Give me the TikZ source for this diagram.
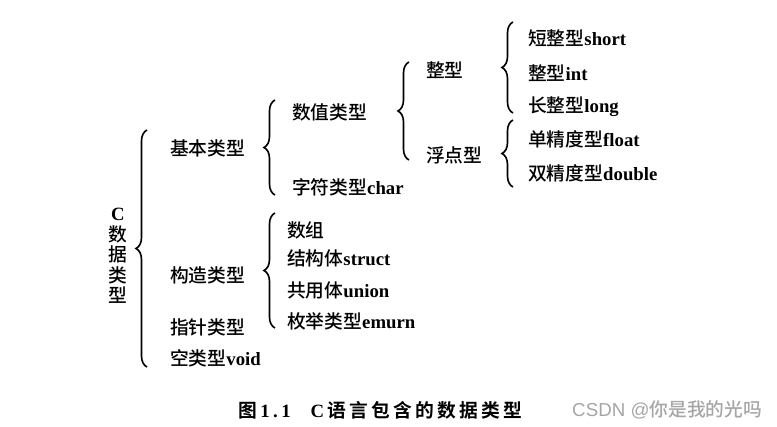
\documentclass[tikz,border=0pt]{standalone}
\usepackage{fontspec}
\setmainfont{Liberation Serif}
\newfontfamily\cjk{Noto Sans CJK SC Medium}
\newfontfamily\cjkbold{Noto Sans CJK SC Bold}[LetterSpace=17]
\newfontfamily\latbold{Liberation Serif Bold}[LetterSpace=18]
\newfontfamily\wmfont{Liberation Sans}
\usetikzlibrary{decorations.pathreplacing}
\newcommand{\lat}[1]{{\rmfamily\bfseries #1}}
\begin{document}
\begin{tikzpicture}[
  x=0.03cm,y=-0.03cm,
  font=\fontsize{16}{19}\selectfont\cjk,
  item/.style={anchor=west,inner sep=0pt},
  curly/.style={decorate,decoration={brace,amplitude=0.33cm},line width=1.4pt}
]
  \fill[white] (0,0) rectangle (777,427);
  \useasboundingbox (0,0) rectangle (777,427);

  \node[align=center,inner sep=0pt,font=\fontsize{16}{17.5}\selectfont\cjk] (root) at (118,256)
    {\lat{C}\\数\\据\\类\\型};

  \node[item] (basic) at (170,148) {基本类型};
  \node[item] (struct) at (170,275) {构造类型};
  \node[item] (pointer) at (170,327) {指针类型};
  \node[item] (void) at (170,358) {空类型\lat{void}};

  \node[item] (numeric) at (292,112) {数值类型};
  \node[item] (char) at (292,187) {字符类型\lat{char}};

  \node[item] (integer) at (426,70) {整型};
  \node[item] (floating) at (426,155) {浮点型};

  \node[item] (short) at (528,38) {短整型\lat{short}};
  \node[item] (int) at (528,73) {整型\lat{int}};
  \node[item] (long) at (528,107) {长整型\lat{long}};
  \node[item] (float) at (528,139) {单精度型\lat{float}};
  \node[item] (double) at (528,173) {双精度型\lat{double}};

  \node[item] (array) at (287,230) {数组};
  \node[item] (structure) at (287,258) {结构体\lat{struct}};
  \node[item] (union) at (287,290) {共用体\lat{union}};
  \node[item] (enum) at (287,321) {枚举类型\lat{emurn}};

  \draw[curly] (147,367) -- (147,130);
  \draw[curly] (275,195) -- (275,100);
  \draw[curly] (409,160) -- (409,62);
  \draw[curly] (513,113) -- (513,22);
  \draw[curly] (513,187) -- (513,120);
  \draw[curly] (275,328) -- (275,213);

  \node[item,font=\fontsize{16}{18}\selectfont\cjkbold] (caption) at (238,410)
    {图\hspace{3pt}{\latbold 1.1}\hspace{17pt}{\latbold C}\hspace{3pt}语言包含的数据类型};
  \node[item,font=\fontsize{16}{18}\selectfont\wmfont,text=gray!70] (mark) at (572,410)
    {CSDN @{\cjk 你是我的光吗}};
\end{tikzpicture}
\end{document}
